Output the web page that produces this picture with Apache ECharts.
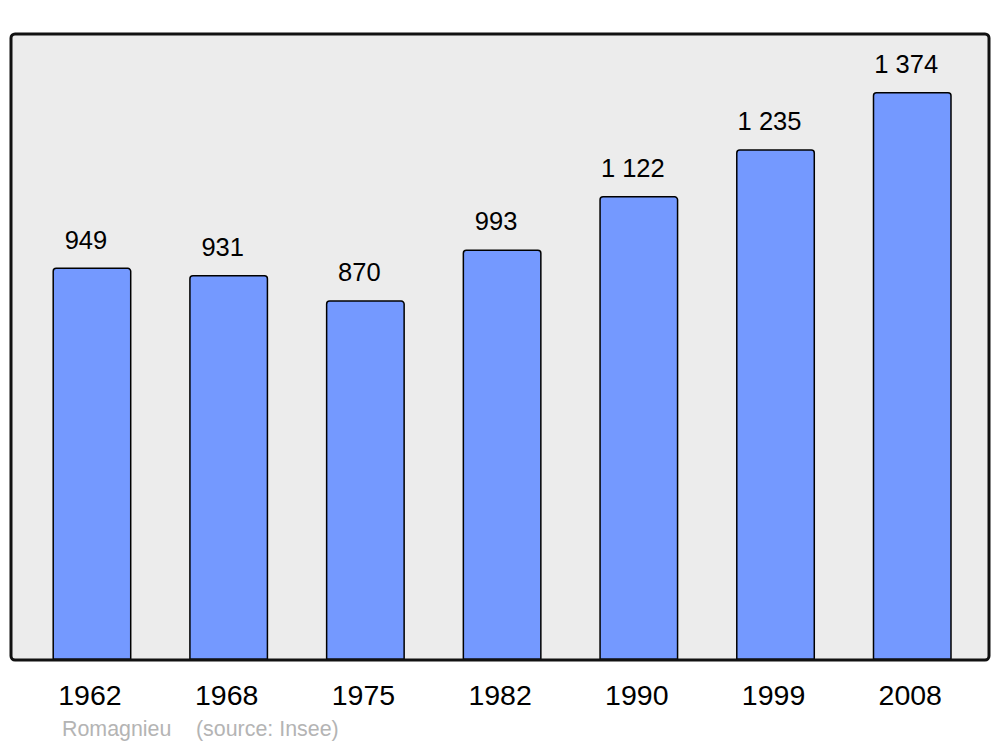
<!DOCTYPE html>
<html>
<head>
<meta charset="utf-8">
<script src="https://cdn.jsdelivr.net/npm/echarts@6/dist/echarts.min.js"></script>
<style>
html,body{margin:0;padding:0;background:#fff;}
#chart{width:1000px;height:747px;}
</style>
</head>
<body>
<div id="chart"></div>
<script>
const years = ['1962','1968','1975','1982','1990','1999','2008'];
const population = [949, 931, 870, 993, 1122, 1235, 1374];
const townName = 'Romagnieu';
const sourceText = '(source: Insee)';

function fmt(v){
  return String(v).replace(/\B(?=(\d{3})+(?!\d))/g, ' ');
}

const FONT = 'Liberation Sans, Arial, sans-serif';
const chart = echarts.init(document.getElementById('chart'), null, {renderer:'svg'});
chart.setOption({
  animation:false,
  backgroundColor:'#ffffff',
  textStyle:{fontFamily:FONT},
  grid:{left:23.6, right:19.4, top:34, bottom:87},
  xAxis:{
    type:'category',
    data:years,
    axisLine:{show:false},
    axisTick:{show:false},
    axisLabel:{color:'#000', fontSize:28.5, margin:20, padding:[0,4,0,0], fontFamily:FONT}
  },
  yAxis:{
    type:'value', min:0, max:1514,
    show:false,
    splitLine:{show:false}
  },
  graphic:[
    {type:'rect', z:-10, shape:{x:11, y:34, width:978, height:626, r:4},
     style:{fill:'#ececec', stroke:null}},
    {type:'rect', z:100, silent:true, shape:{x:11, y:34, width:978, height:626, r:4},
     style:{fill:null, stroke:'#111111', lineWidth:3}},
    {type:'text', left:62, top:718,
     style:{text:townName, fill:'#b4b4b4', fontSize:21.4, fontFamily:FONT}},
    {type:'text', left:196, top:718,
     style:{text:sourceText, fill:'#b4b4b4', fontSize:21.4, fontFamily:FONT}}
  ],
  series:[{
    type:'bar',
    data:population,
    barWidth:79,
    itemStyle:{color:'#7499ff', borderColor:'#000', borderWidth:1.5, borderRadius:[3,3,0,0]},
    label:{show:true, position:'top', distance:15, offset:[-6,0], color:'#000', fontSize:25.5,
      fontFamily:FONT,
      formatter:p=>fmt(p.value)}
  }]
});
</script>
</body>
</html>
